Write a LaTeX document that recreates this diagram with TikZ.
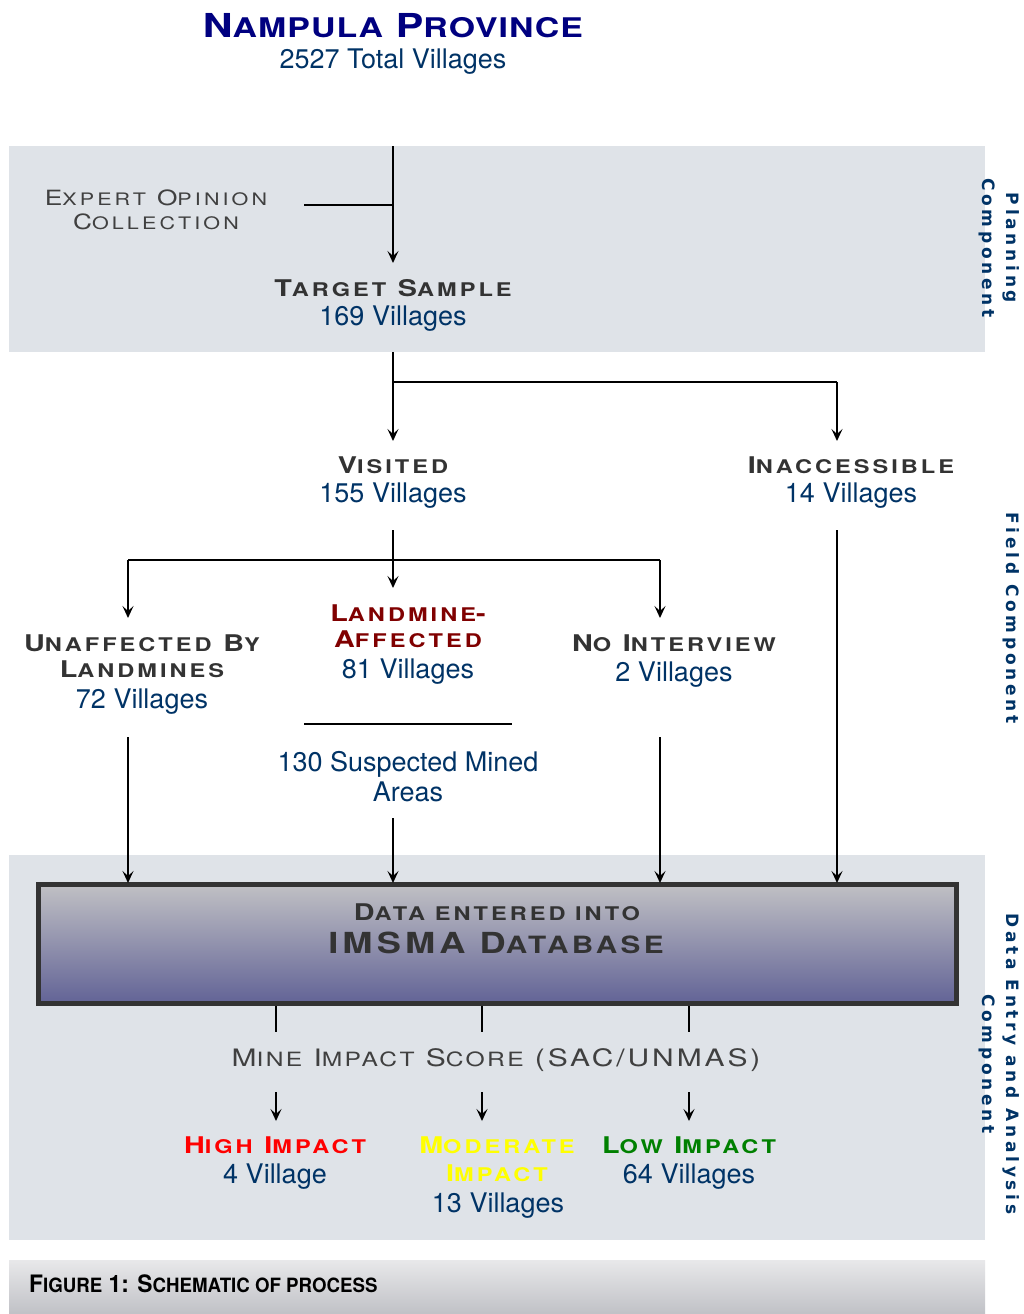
\documentclass[tikz,border=0pt]{standalone}
\usepackage{fontspec}
\setmainfont{TeX Gyre Heros}
\newfontfamily\sidefont{DejaVu Sans}
\usetikzlibrary{arrows.meta}
\definecolor{bandgray}{RGB}{223,227,232}
\definecolor{navytitle}{RGB}{0,0,128}
\definecolor{numblue}{RGB}{0,51,102}
\definecolor{headgray}{RGB}{51,51,51}
\definecolor{thingray}{RGB}{64,64,64}
\definecolor{minered}{RGB}{128,0,0}
\definecolor{highred}{RGB}{255,0,0}
\definecolor{modyellow}{RGB}{255,255,0}
\definecolor{lowgreen}{RGB}{0,128,0}
\definecolor{boxtop}{RGB}{192,192,196}
\definecolor{boxbottom}{RGB}{98,99,150}
\definecolor{boxline}{RGB}{51,51,51}
\definecolor{captop}{RGB}{232,232,234}
\definecolor{capbottom}{RGB}{192,193,198}
\makeatletter
% smaller capitals for the heading texts
\newcommand{\smc}[1]{{\@tempdima=\f@size pt\@tempdima=0.82\@tempdima
	\fontsize{\@tempdima}{\f@baselineskip}\selectfont #1}}
\makeatother
\newcommand{\capsset}[3]{\fontsize{#1}{#1}\selectfont\addfontfeatures{FakeStretch=#2, LetterSpace=#3}}

\begin{document}
\begin{tikzpicture}[x=1pt,y=-1pt,
	title/.style={font=\bfseries\capsset{33}{1.25}{4}, text=navytitle, anchor=base, inner sep=0pt},
	num/.style={font=\fontsize{27}{30}\selectfont, text=numblue, anchor=base, inner sep=0pt},
	head/.style={font=\bfseries\capsset{23}{1.25}{16}, text=headgray, anchor=base, inner sep=0pt},
	thin/.style={font=\capsset{21}{1.25}{18}, text=thingray, anchor=base, inner sep=0pt},
	side/.style={font=\sidefont\bfseries\fontsize{17}{24}\selectfont\addfontfeatures{LetterSpace=22}, text=numblue, rotate=-90, align=center, inner sep=0pt},
	arr/.style={line width=1.6pt, -{Stealth[length=12pt,width=11pt,inset=5pt]}},
	link/.style={line width=1.6pt},
	rule/.style={line width=2.5pt}]
	% page and bands
	\useasboundingbox (0,0) rectangle (1024,1314);
	\fill[white] (0,0) rectangle (1024,1314);
	\fill[bandgray] (9,146) rectangle (985,352);
	\fill[bandgray] (9,855) rectangle (985,1240);
	\shade[top color=captop, bottom color=capbottom] (9,1260) rectangle (985,1314);
	
	% province and planning component
	\node[title] (prov) at (393,38) {N\smc{AMPULA} P\smc{ROVINCE}};
	\node[num] (provn) at (393,69) {2527 Total Villages};
	\node[thin] (eo1) at (156,205) {E\smc{XPERT} O\smc{PINION}};
	\node[thin] (eo2) at (156,229) {C\smc{OLLECTION}};
	\node[head] (ts) at (393,296) {T\smc{ARGET} S\smc{AMPLE}};
	\node[num] (tsn) at (393,325) {169 Villages};
	\coordinate (plan-top) at (393,146);
	\coordinate (ts-in) at (393,263);
	\coordinate (eo-end) at (304,205);
	\coordinate (eo-join) at (393,205);
	\draw[arr] (plan-top) -- (ts-in);
	\draw[rule] (eo-end) -- (eo-join);
	
	% field component
	\node[head] (vis) at (393,473) {V\smc{ISITED}};
	\node[num] (visn) at (393,502) {155 Villages};
	\node[head] (inac) at (851,473) {I\smc{NACCESSIBLE}};
	\node[num] (inacn) at (851,502) {14 Villages};
	\coordinate (ts-out) at (393,352);
	\coordinate (split1) at (393,382);
	\coordinate (split1r) at (837,382);
	\coordinate (vis-in) at (393,441);
	\coordinate (inac-in) at (837,441);
	\draw[arr] (ts-out) -- (vis-in);
	\draw[link] (split1) -- (split1r);
	\draw[arr] (split1r) -- (inac-in);
	
	\node[head] (un1) at (142,651) {U\smc{NAFFECTED} B\smc{Y}};
	\node[head] (un2) at (142,677) {L\smc{ANDMINES}};
	\node[num] (unn) at (142,708) {72 Villages};
	\node[head, text=minered] (la1) at (408,621) {L\smc{ANDMINE}-};
	\node[head, text=minered] (la2) at (408,647) {A\smc{FFECTED}};
	\node[num] (lan) at (408,678) {81 Villages};
	\node[head] (ni) at (674,651) {N\smc{O} I\smc{NTERVIEW}};
	\node[num] (nin) at (674,681) {2 Villages};
	\coordinate (vis-out) at (393,530);
	\coordinate (split2) at (393,560);
	\coordinate (split2l) at (128,560);
	\coordinate (split2r) at (660,560);
	\coordinate (la-in) at (393,588);
	\coordinate (un-in) at (128,618);
	\coordinate (ni-in) at (660,618);
	\draw[arr] (vis-out) -- (la-in);
	\draw[link] (split2l) -- (split2r);
	\draw[arr] (split2l) -- (un-in);
	\draw[arr] (split2r) -- (ni-in);
	
	\coordinate (sma-l) at (304,724);
	\coordinate (sma-r) at (512,724);
	\draw[rule] (sma-l) -- (sma-r);
	\node[num] (sma1) at (408,771) {130 Suspected Mined};
	\node[num] (sma2) at (408,801) {Areas};
	
	% data entry and analysis component
	\node[draw=boxline, line width=5pt, top color=boxtop, bottom color=boxbottom,
		minimum width=918pt, minimum height=119pt, inner sep=0pt] (db) at (497.5,944) {};
	\node[head] (db1) at (497,920) {D\smc{ATA ENTERED INTO}};
	\node[head, font=\bfseries\capsset{29}{1.25}{14}] (db2) at (496,953) {IMSMA D\smc{ATABASE}};
	\coordinate (un-out) at (128,737);
	\coordinate (sma-out) at (393,818);
	\coordinate (ni-out) at (660,737);
	\coordinate (inac-out) at (837,530);
	\foreach \src/\xx in {un-out/128, sma-out/393, ni-out/660, inac-out/837}
		\draw[arr] (\src) -- (\xx,883);
	
	\node[thin, font=\capsset{24}{1.25}{12}] (mis) at (496,1066) {M\smc{INE} I\smc{MPACT} S\smc{CORE} (SAC/UNMAS)};
	\foreach \xx in {276,482,689} {
		\draw[link] (\xx,1006) -- (\xx,1032);
		\draw[arr] (\xx,1092) -- (\xx,1121);
	}
	\node[head, text=highred] (hi) at (275,1153) {H\smc{IGH} I\smc{MPACT}};
	\node[num] (hin) at (275,1183) {4 Village};
	\node[head, text=modyellow] (mo1) at (497,1153) {M\smc{ODERATE}};
	\node[head, text=modyellow] (mo2) at (497,1181) {I\smc{MPACT}};
	\node[num] (mon) at (498,1212) {13 Villages};
	\node[head, text=lowgreen] (lo) at (689,1153) {L\smc{OW} I\smc{MPACT}};
	\node[num] (lon) at (689,1183) {64 Villages};
	
	% side labels
	\node[side] (plan) at (999,248) {Planning\\Component};
	\node[side] (field) at (1011,618) {Field Component};
	\node[side] (dea) at (999,1064) {Data Entry and Analysis\\Component};
	
	% caption
	\node[font=\bfseries\capsset{24}{0.95}{0}, anchor=base west, inner sep=0pt] (cap) at (29,1292) {F\smc{IGURE} 1: S\smc{CHEMATIC OF PROCESS}};
\end{tikzpicture}
\end{document}
